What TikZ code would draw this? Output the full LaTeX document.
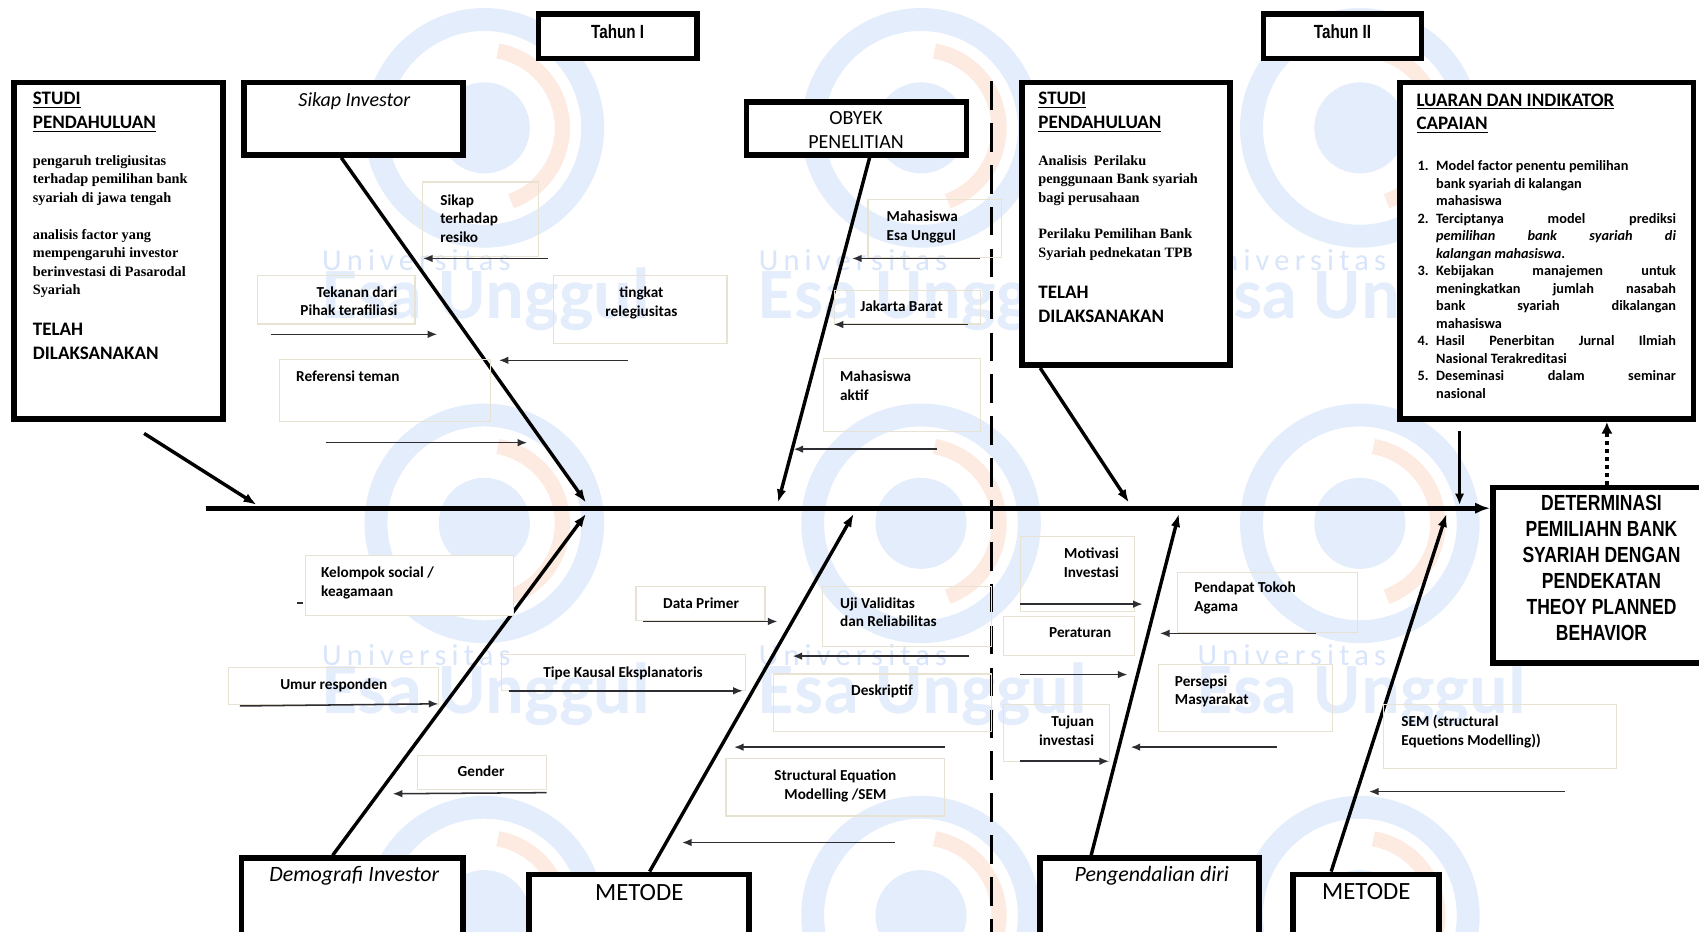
\documentclass[tikz,border=0pt]{standalone}
\usepackage{fontspec}
\setmainfont{Carlito}
\newfontfamily\bodyserif{Liberation Serif}
\newfontfamily\narrowsans[FakeStretch=0.8]{Liberation Sans}
\newfontfamily\wmsans[LetterSpace=17]{Carlito}
\usetikzlibrary{arrows.meta,fit,calc}
\definecolor{framecol}{RGB}{232,226,210}
\definecolor{twigcol}{RGB}{45,45,50}
\definecolor{wmblue}{RGB}{228,237,252}
\definecolor{wmtext}{RGB}{216,229,250}
\definecolor{wmorange}{RGB}{253,234,225}

\begin{document}
\begin{tikzpicture}[x=0.02cm,y=-0.02cm,
	bigbox/.style={draw,line width=3pt,inner sep=0pt,fill=white},
	lblframe/.style={draw=framecol,line width=0.6pt,inner sep=0pt},
	lbl/.style={inner sep=0pt,align=left,font=\fontsize{8}{9.9}\selectfont\bfseries},
	studibody/.style={inner sep=0pt,anchor=north west,align=left,font=\bodyserif\fontsize{7.5}{9.7}\selectfont\bfseries},
	studititle/.style={inner sep=0pt,anchor=north west,align=left,font=\fontsize{10}{12.3}\selectfont\bfseries},
	spine/.style={line width=2.6pt,-{Latex[length=8pt,width=6pt]}},
	bone/.style={line width=1.8pt,-{Latex[length=7pt,width=5pt]}},
	twig/.style={draw=twigcol,line width=0.8pt,-{Latex[length=5pt,width=4pt]}},
	]
	\fill[white] (0,0) rectangle (1568,860);
	\useasboundingbox (0,0) rectangle (1568,860);

	% watermark
	\foreach \cx/\cy in {447/118,850/118,1255/118,447/483,850/483,1255/483,447/845,850/845,1255/845}{
		\draw[wmblue,line width=12pt] (\cx,\cy) circle[radius=100];
		\draw[wmorange,line width=8pt] (\cx,\cy) ++(70:72) arc[start angle=70,end angle=-80,radius=72];
		\fill[wmblue] (\cx,\cy) circle[radius=42];
	}
	\foreach \wx/\wy in {297/240,700/240,1105/240,297/605,700/605,1105/605}{
		\node[wmtext,anchor=west,inner sep=0pt,font=\wmsans\fontsize{16}{16}\selectfont] at (\wx,\wy) {Universitas};
		\node[wmblue,anchor=west,inner sep=0pt,font=\fontsize{38}{38}\selectfont\bfseries] at (\wx,\wy+36) {Esa Unggul};
	}

	% boxes
	\node[bigbox,fit={(497,13) (643,54)}] (tahunI) {};
	\node[bigbox,fit={(1166,13) (1312,54)}] (tahunII) {};
	\node[bigbox,fit={(13,76) (206,387)}] (studiA) {};
	\node[bigbox,fit={(225,76) (427,143)}] (sikapInv) {};
	\node[bigbox,fit={(689,94) (892,143)}] (obyek) {};
	\node[bigbox,fit={(943,76) (1135,337)}] (studiB) {};
	\node[bigbox,fit={(1292,76) (1563,387)}] (luaran) {};
	\node[bigbox,fit={(1378,450) (1580,612)}] (determ) {};
	\node[bigbox,fit={(223,792) (427,880)}] (demog) {};
	\node[bigbox,fit={(488,807) (691,880)}] (metodeA) {};
	\node[bigbox,fit={(960,792) (1162,880)}] (pengend) {};
	\node[bigbox,fit={(1193,807) (1328,880)}] (metodeB) {};

	\node[inner sep=0pt,font=\narrowsans\fontsize{10}{12}\selectfont\bfseries] (tahunItxt) at (570,29) {Tahun I};
	\node[inner sep=0pt,font=\narrowsans\fontsize{10}{12}\selectfont\bfseries] (tahunIItxt) at (1239,29) {Tahun II};
	\node[inner sep=0pt,font=\fontsize{10.5}{12}\selectfont\itshape] (sikapTxt) at (327,93) {Sikap Investor};
	\node[inner sep=0pt,align=center,font=\fontsize{10.5}{12.5}\selectfont] (obyekTxt) at (790,120) {OBYEK\\PENELITIAN};
	\node[inner sep=0pt,font=\fontsize{11.5}{13}\selectfont\itshape] (demogTxt) at (327,808) {Demografi Investor};
	\node[inner sep=0pt,font=\fontsize{13}{15}\selectfont] (metodeATxt) at (590,824) {METODE};
	\node[inner sep=0pt,font=\fontsize{11.5}{13}\selectfont\itshape] (pengendTxt) at (1063,808) {Pengendalian diri};
	\node[inner sep=0pt,font=\fontsize{13}{15}\selectfont] (metodeBTxt) at (1261,823) {METODE};
	\node[inner sep=0pt,align=center,font=\narrowsans\fontsize{11.5}{13.7}\selectfont\bfseries] (determTxt) at (1478,524)
		{DETERMINASI\\PEMILIAHN BANK\\SYARIAH DENGAN\\PENDEKATAN\\THEOY PLANNED\\BEHAVIOR};

	% studi pendahuluan (kiri)
	\node[studititle] (studiATitle) at (30,85) {\underline{STUDI}\\\underline{PENDAHULUAN}};
	\node[studibody] (studiABody1) at (30,143) {pengaruh treligiusitas\\terhadap pemilihan bank\\syariah di jawa tengah};
	\node[studibody] (studiABody2) at (30,211) {analisis factor yang\\mempengaruhi investor\\berinvestasi di Pasarodal\\Syariah};
	\node[studititle] (studiADone) at (30,298) {TELAH\\DILAKSANAKAN};

	% studi pendahuluan (kanan)
	\node[studititle] (studiBTitle) at (958,85) {\underline{STUDI}\\\underline{PENDAHULUAN}};
	\node[studibody] (studiBBody1) at (958,143) {Analisis\ \ Perilaku\\penggunaan Bank syariah\\bagi perusahaan};
	\node[studibody] (studiBBody2) at (958,211) {Perilaku Pemilihan Bank\\Syariah pednekatan TPB};
	\node[studititle] (studiBDone) at (958,264) {TELAH\\DILAKSANAKAN};

	% luaran
	\node[studititle] (luaranTitle) at (1307,86) {\underline{LUARAN DAN INDIKATOR}\\\underline{CAPAIAN}};
	\node[anchor=north west,inner sep=0pt,align=left,font=\fontsize{7.5}{9.2}\selectfont\bfseries] (luaranList) at (1308,148) {%
		\makebox[9.7pt][l]{1.}Model factor penentu pemilihan\\
		\hspace*{9.7pt}bank syariah di kalangan\\
		\hspace*{9.7pt}mahasiswa\\
		\makebox[9.7pt][l]{2.}\makebox[126pt][s]{Terciptanya model prediksi}\\
		\hspace*{9.7pt}\makebox[126pt][s]{\itshape pemilihan bank syariah di}\\
		\hspace*{9.7pt}\textit{kalangan mahasiswa.}\\
		\makebox[9.7pt][l]{3.}\makebox[126pt][s]{Kebijakan manajemen untuk}\\
		\hspace*{9.7pt}\makebox[126pt][s]{meningkatkan jumlah nasabah}\\
		\hspace*{9.7pt}\makebox[126pt][s]{bank syariah dikalangan}\\
		\hspace*{9.7pt}mahasiswa\\
		\makebox[9.7pt][l]{4.}\makebox[126pt][s]{Hasil Penerbitan Jurnal Ilmiah}\\
		\hspace*{9.7pt}Nasional Terakreditasi\\
		\makebox[9.7pt][l]{5.}\makebox[126pt][s]{Deseminasi dalam seminar}\\
		\hspace*{9.7pt}nasional};

	% spine and bones
	\coordinate (spineTail) at (190,469);
	\coordinate (tailStudiA) at (133,400);
	\coordinate (tipStudiA) at (237,466);
	\coordinate (tipSikap) at (541,464);
	\coordinate (tipObyek) at (718,464);
	\coordinate (tipStudiB) at (1042,464);
	\coordinate (tailLuaran) at (1347,398);
	\coordinate (tipLuaran) at (1347,466);
	\coordinate (tipDemog) at (541,474);
	\coordinate (tipMetodeA) at (788,474);
	\coordinate (tipPengend) at (1088,474);
	\coordinate (tipMetodeB) at (1335,474);
	\coordinate (dotFoot) at ($(determ.north)+(4,0)$);

	\draw[spine] (spineTail) -- (determ.west |- spineTail);
	\draw[bone] (tailStudiA) -- (tipStudiA);
	\draw[bone] ($(sikapInv.south)+(-11,0)$) -- (tipSikap);
	\draw[bone] ($(obyek.south)+(12,0)$) -- (tipObyek);
	\draw[bone] ($(studiB.south)+(-79,0)$) -- (tipStudiB);
	\draw[line width=1.2pt,-{Latex[length=6pt,width=5pt]}] (tailLuaran) -- (tipLuaran);
	\draw[bone] ($(demog.north)+(-18,0)$) -- (tipDemog);
	\draw[bone] ($(metodeA.north)+(10,0)$) -- (tipMetodeA);
	\draw[bone] ($(pengend.north)+(-54,0)$) -- (tipPengend);
	\draw[bone] ($(metodeB.north)+(-32,0)$) -- (tipMetodeB);
	\draw[line width=2.2pt,dotted,-{Latex[length=6pt,width=6pt]}] (dotFoot) -- (dotFoot |- luaran.south);

	\draw[line width=2pt,dash pattern=on 15pt off 7pt] (915,75) -- (915,862);

	% Sikap Investor
	\node[lblframe,fit={(390,168) (497,237)}] (fResiko) {};
	\node[lbl,anchor=north west] (tResiko) at (406,179) {Sikap\\terhadap\\resiko};
	\draw[twig] (fResiko.south east) ++(8,1) -- ++(-115,0);
	\node[lblframe,fit={(238,254) (383,299)}] (fTekanan) {};
	\node[lbl,anchor=north east,align=right] (tTekanan) at (367,264) {Tekanan dari\\Pihak terafiliasi};
	\draw[twig] (fTekanan.south west) ++(13,9) -- ++(153,0);
	\node[lblframe,fit={(511,254) (671,317)}] (fReligi) {};
	\node[lbl,anchor=north,align=center] (tReligi) at (592,264) {tingkat\\relegiusitas};
	\draw[twig] (fReligi.south west) ++(69,15) -- ++(-119,0);
	\node[lblframe,fit={(258,332) (453,389)}] (fReferensi) {};
	\node[lbl,anchor=north west] (tReferensi) at (273,342) {Referensi teman};
	\draw[twig] (fReferensi.south west) ++(43,19) -- ++(186,0);

	% Obyek Penelitian
	\node[lblframe,fit={(801,184) (924,238)}] (fEsa) {};
	\node[lbl,anchor=north west] (tEsa) at (818,194) {Mahasiswa\\Esa Unggul};
	\draw[twig] (fEsa.south west) ++(104,0) -- ++(-118,0);
	\node[lblframe,fit={(770,268) (905,299)}] (fJakarta) {};
	\node[lbl,anchor=north] (tJakarta) at (832,277) {Jakarta Barat};
	\draw[twig] (fJakarta.south west) ++(124,0) -- ++(-124,0);
	\node[lblframe,fit={(760,331) (905,398)}] (fAktif) {};
	\node[lbl,anchor=north west] (tAktif) at (775,342) {Mahasiswa\\aktif};
	\draw[twig] (fAktif.south west) ++(105,16) -- ++(-132,0);

	% Demografi Investor
	\node[lblframe,fill=white,fit={(282,513) (474,568)}] (fKelompok) {};
	\node[lbl,anchor=north west] (tKelompok) at (296,523) {Kelompok social /\\keagamaan};
	\draw[twigcol,line width=0.8pt] (fKelompok.south west) ++(-7,-12) -- ++(5,0);
	\node[lblframe,fit={(211,616) (405,650)}] (fUmur) {};
	\node[lbl,anchor=north] (tUmur) at (308,626) {Umur responden};
	\draw[twig] (fUmur.south west) ++(11,1) -- ++(183,-2);
	\node[lblframe,fit={(385,697) (504,729)}] (fGender) {};
	\node[lbl,anchor=north] (tGender) at (444,706) {Gender};
	\draw[twig] (fGender.south east) ++(0,2) -- ++(-142,1);

	% Metode (tahun I)
	\node[lblframe,fit={(587,541) (706,573)}] (fPrimer) {};
	\node[lbl,anchor=north] (tPrimer) at (647,551) {Data Primer};
	\draw[twig] (fPrimer.south west) ++(7,0) -- ++(124,0);
	\node[lblframe,fit={(463,604) (688,637)}] (fTipe) {};
	\node[lbl,anchor=north] (tTipe) at (575,615) {Tipe Kausal Eksplanatoris};
	\draw[twig] (fTipe.south west) ++(7,0) -- ++(216,0);
	\node[lblframe,fit={(759,541) (915,597)}] (fUji) {};
	\node[lbl,anchor=north west] (tUji) at (775,551) {Uji Validitas\\dan Reliabilitas};
	\draw[twig] (fUji.south east) ++(-21,8) -- ++(-163,0);
	\node[lblframe,fit={(714,622) (915,675)}] (fDesk) {};
	\node[lbl,anchor=north] (tDesk) at (814,632) {Deskriptif};
	\draw[twig] (fDesk.south east) ++(-43,14) -- ++(-195,0);
	\node[lblframe,fit={(670,700) (872,753)}] (fSem) {};
	\node[lbl,anchor=north,align=center] (tSem) at (771,710) {Structural Equation\\Modelling /SEM};
	\draw[twig] (fSem.south east) ++(-47,24) -- ++(-196,0);

	% Pengendalian diri
	\node[lblframe,fit={(942,495) (1047,564)}] (fMotiv) {};
	\node[lbl,anchor=north east,align=right] (tMotiv) at (1033,505) {Motivasi\\Investasi};
	\draw[twig] (fMotiv.south west) ++(0,-7) -- ++(113,0);
	\node[lblframe,fit={(926,569) (1047,605)}] (fAtur) {};
	\node[lbl,anchor=north] (tAtur) at (997,579) {Peraturan};
	\draw[twig] (fAtur.south west) ++(16,17) -- ++(99,0);
	\node[lblframe,fit={(926,650) (1024,703)}] (fTujuan) {};
	\node[lbl,anchor=north east,align=right] (tTujuan) at (1010,660) {Tujuan\\investasi};
	\draw[twig] (fTujuan.south west) ++(16,-1) -- ++(82,0);
	\node[lblframe,fit={(1087,528) (1253,584)}] (fTokoh) {};
	\node[lbl,anchor=north west] (tTokoh) at (1102,537) {Pendapat Tokoh\\Agama};
	\draw[twig] (fTokoh.south east) ++(-39,0) -- ++(-144,0);
	\node[lblframe,fit={(1069,613) (1230,675)}] (fPersepsi) {};
	\node[lbl,anchor=north west] (tPersepsi) at (1084,623) {Persepsi\\Masyarakat};
	\draw[twig] (fPersepsi.south east) ++(-52,14) -- ++(-135,0);

	% Metode (tahun II)
	\node[lblframe,fit={(1277,650) (1492,709)}] (fSemB) {};
	\node[lbl,anchor=north west] (tSemB) at (1293,660) {SEM (structural\\Equetions Modelling))};
	\draw[twig] (fSemB.south east) ++(-48,21) -- ++(-181,0);
\end{tikzpicture}
\end{document}
